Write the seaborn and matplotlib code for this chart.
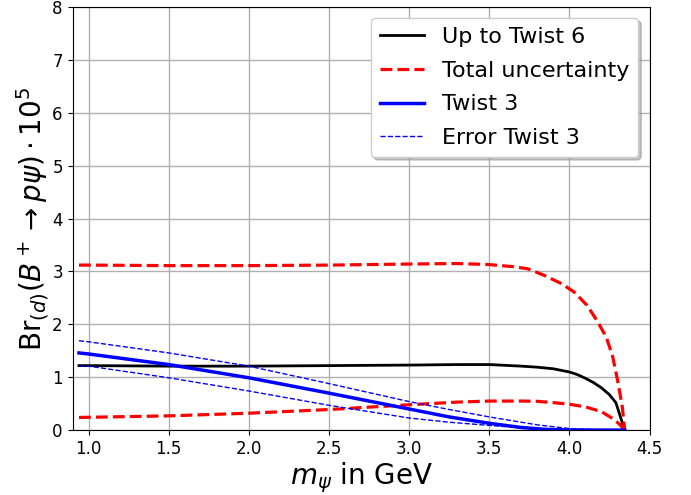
import numpy as np
import pandas as pd
import matplotlib
matplotlib.use("Agg")
import matplotlib.pyplot as plt
import seaborn as sns

# values
x_tw6 = [0.94, 1.0, 1.5, 2.0, 2.5, 3.0, 3.3, 3.5, 3.7, 3.8, 3.9, 3.95, 4.0, 4.05, 4.1, 4.15, 4.2, 4.25, 4.29, 4.345]
y_tw6 = [1.22, 1.22, 1.21, 1.21, 1.22, 1.23, 1.24, 1.24, 1.21, 1.19, 1.16, 1.13, 1.10, 1.05, 0.98, 0.90, 0.80, 0.67, 0.52, 0.0]

x_tot_up = [0.94, 1.0, 1.5, 2.0, 2.5, 3.0, 3.3, 3.5, 3.65, 3.74, 3.84, 3.95, 4.03, 4.11, 4.17, 4.23, 4.27, 4.30, 4.33, 4.345]
y_tot_up = [3.12, 3.12, 3.11, 3.11, 3.12, 3.14, 3.15, 3.13, 3.09, 3.05, 2.93, 2.77, 2.61, 2.36, 2.08, 1.76, 1.39, 0.95, 0.44, 0.0]

x_tot_lo = [0.94, 1.5, 2.0, 2.5, 3.0, 3.3, 3.5, 3.7, 3.8, 3.9, 4.0, 4.1, 4.2, 4.27, 4.31, 4.345]
y_tot_lo = [0.24, 0.27, 0.32, 0.39, 0.48, 0.53, 0.55, 0.55, 0.545, 0.52, 0.49, 0.44, 0.35, 0.22, 0.12, 0.0]

x_tw3 = [0.94, 1.0, 1.5, 2.0, 2.5, 2.75, 3.0, 3.25, 3.5, 3.7, 3.85, 4.0, 4.345]
y_tw3 = [1.46, 1.44, 1.24, 0.99, 0.70, 0.55, 0.40, 0.25, 0.13, 0.05, 0.015, 0.003, 0.0]

x_err_up = [0.94, 1.0, 1.5, 2.0, 2.5, 3.0, 3.25, 3.5, 3.8, 4.0, 4.2, 4.345]
y_err_up = [1.69, 1.67, 1.46, 1.21, 0.88, 0.54, 0.39, 0.25, 0.10, 0.03, 0.005, 0.0]

x_err_lo = [0.94, 1.0, 1.5, 2.0, 2.5, 3.0, 3.25, 3.5, 3.8, 4.0, 4.345]
y_err_lo = [1.21, 1.21, 0.99, 0.74, 0.47, 0.23, 0.15, 0.09, 0.02, 0.003, 0.0]

plt.rcParams['font.family'] = ['DejaVu Sans']

fig, ax = plt.subplots(figsize=(6.91, 4.95), dpi=100)
fig.subplots_adjust(left=0.105, right=0.94, bottom=0.131, top=0.986)

sns.lineplot(x=x_tw6, y=y_tw6, ax=ax, color='black', lw=2, label='Up to Twist 6', sort=False)
sns.lineplot(x=x_tot_up, y=y_tot_up, ax=ax, color='red', lw=2.3, linestyle='--', label='Total uncertainty', sort=False)
sns.lineplot(x=x_tot_lo, y=y_tot_lo, ax=ax, color='red', lw=2.3, linestyle='--', sort=False)
sns.lineplot(x=x_tw3, y=y_tw3, ax=ax, color='blue', lw=2.5, label='Twist 3', sort=False)
sns.lineplot(x=x_err_up, y=y_err_up, ax=ax, color='blue', lw=1, linestyle='--', label='Error Twist 3', sort=False)
sns.lineplot(x=x_err_lo, y=y_err_lo, ax=ax, color='blue', lw=1, linestyle='--', sort=False)

ax.set_xlim(0.9, 4.5)
ax.set_ylim(0, 8)
ax.set_xticks(np.arange(1.0, 4.51, 0.5))
ax.set_yticks(range(0, 9))
ax.tick_params(labelsize=12)
ax.grid(True, color='#b0b0b0', lw=1)
ax.set_axisbelow(True)

ax.set_xlabel(r'$m_\psi$ in GeV', fontsize=20, labelpad=1.5)
ax.set_ylabel(r'Br$_{(d)}(B^+\to p\psi)\cdot10^5$', fontsize=20, labelpad=1)

ax.legend(loc='upper right', fontsize=16, framealpha=1, labelspacing=0.62,
          shadow={'color': '0.55', 'alpha': 0.5})

plt.savefig("out.png", dpi=100)
